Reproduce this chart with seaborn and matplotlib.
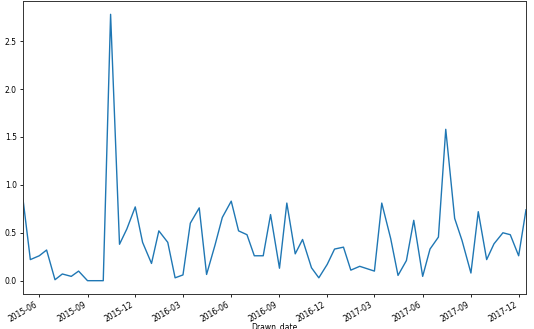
import matplotlib
matplotlib.use("Agg")
import matplotlib.pyplot as plt
import matplotlib.dates as mdates
import numpy as np
import pandas as pd
import seaborn as sns

start_date = "2015-05-01"
end_date = "2017-12-15"
values = [0.85, 0.22, 0.26, 0.32, 0.01, 0.07, 0.045, 0.10, 0.0, 0.0, 0.0, 2.78,
          0.38, 0.54, 0.77, 0.40, 0.18, 0.52, 0.40, 0.03, 0.06, 0.60, 0.76, 0.065,
          0.37, 0.66, 0.83, 0.52, 0.48, 0.26, 0.26, 0.69, 0.13, 0.81, 0.28, 0.43,
          0.135, 0.03, 0.17, 0.33, 0.35, 0.11, 0.15, 0.125, 0.10, 0.81, 0.44, 0.055,
          0.21, 0.63, 0.045, 0.33, 0.455, 1.58, 0.65, 0.42, 0.08, 0.72, 0.22, 0.385,
          0.50, 0.48, 0.26, 0.74]

dates = pd.date_range(start_date, end_date, freq="SMS")
df = pd.DataFrame({"Drawn_date": dates, "value": values})

plt.rcParams['font.family'] = ['DejaVu Sans']
fig = plt.figure(figsize=(5.34, 3.29), dpi=100)
ax = fig.add_axes([23/534, 1 - 294/329, (526-23)/534, 293/329])

sns.lineplot(data=df, x="Drawn_date", y="value", ax=ax, color="#1f77b4", linewidth=1.0)

ax.set_xlim(dates[0], dates[-1])
ax.xaxis.set_major_locator(mdates.MonthLocator(bymonth=[3, 6, 9, 12]))
ax.xaxis.set_major_formatter(mdates.DateFormatter("%Y-%m"))
ax.set_yticks([0.0, 0.5, 1.0, 1.5, 2.0, 2.5])
ax.set_ylabel("")
ax.set_xlabel("Drawn_date", fontsize=5.5)
ax.xaxis.set_label_coords(0.5, -0.095)
ax.tick_params(axis="both", labelsize=5.5, length=2.5, width=0.6, pad=2)
for lbl in ax.get_xticklabels():
    lbl.set_rotation(30)
    lbl.set_ha("right")
for s in ax.spines.values():
    s.set_linewidth(0.7)
    s.set_color("#333333")

fig.savefig("out.png", dpi=100)
